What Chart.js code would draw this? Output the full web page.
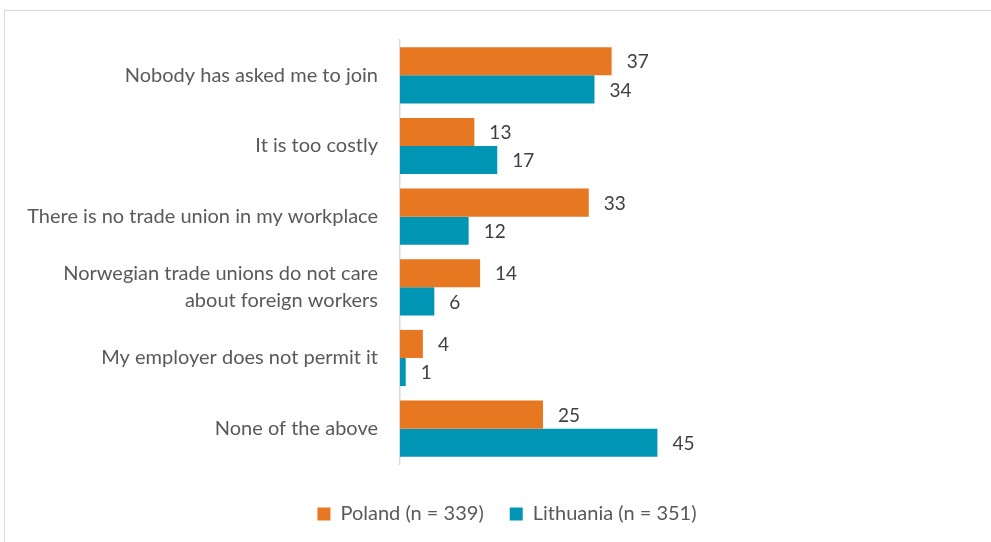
<!DOCTYPE html>
<html>
<head>
<meta charset="utf-8">
<script src="https://cdn.jsdelivr.net/npm/chart.js@4.4.1/dist/chart.umd.min.js"></script>
<style>
  html, body { margin: 0; padding: 0; background: #fff; overflow: hidden; }
  .frame {
    position: absolute; left: 4px; top: 10px;
    width: 1100px; height: 700px;
    border: 1px solid #d9d9d9; box-sizing: border-box;
  }
  .wrap { position: absolute; left: 0; top: 0; width: 991px; height: 542px; }
</style>
</head>
<body>
<div class="frame"></div>
<div class="wrap"><canvas id="chartReasons"></canvas></div>
<script>
// Reasons for not joining a trade union (%)
const reasons = [
  'Nobody has asked me to join',
  'It is too costly',
  'There is no trade union in my workplace',
  ['Norwegian trade unions do not care', 'about foreign workers'],
  'My employer does not permit it',
  'None of the above'
];
const poland = [37, 13, 33, 14, 4, 25];
const lithuania = [34, 17, 12, 6, 1, 45];
const seriesNames = ['Poland (n = 339)', 'Lithuania (n = 351)'];

const colors = {
  orange: '#e87722',
  teal: '#0095b5',
  axis: '#d9d9d9',
  label: '#595959',
  value: '#404040'
};

const FONT = 'Lato, "Noto Sans", sans-serif';

// value labels to the right of each bar
const barValues = {
  id: 'barValues',
  afterDatasetsDraw(chart) {
    const ctx = chart.ctx;
    ctx.save();
    ctx.font = '19px ' + FONT;
    ctx.fillStyle = colors.value;
    ctx.textAlign = 'left';
    ctx.textBaseline = 'middle';
    chart.data.datasets.forEach((ds, i) => {
      chart.getDatasetMeta(i).data.forEach((bar, j) => {
        ctx.fillText(ds.data[j], bar.x + 15, bar.y + 1);
      });
    });
    ctx.restore();
  }
};

// legend sits centred under the whole frame, a bit right of the canvas centre
const legendShift = {
  id: 'legendShift',
  afterUpdate(chart) {
    chart.legend.left += 21;
    chart.legend.right += 21;
  }
};

new Chart(document.getElementById('chartReasons'), {
  type: 'bar',
  data: {
    labels: reasons,
    datasets: [
      { label: seriesNames[0], data: poland, backgroundColor: colors.orange },
      { label: seriesNames[1], data: lithuania, backgroundColor: colors.teal }
    ]
  },
  options: {
    indexAxis: 'y',
    responsive: true,
    maintainAspectRatio: false,
    animation: false,
    categoryPercentage: 0.795,
    barPercentage: 1.0,
    layout: { padding: { top: 40, right: 19, bottom: 8, left: 0 } },
    scales: {
      x: {
        min: 0,
        max: 100,
        // empty axis, only keeps a gap above the legend
        afterFit(axis) { axis.height = 14; },
        grid: { display: false },
        border: { display: false },
        ticks: { display: false }
      },
      y: {
        afterFit(axis) { axis.width = 400; },
        grid: { display: false, drawTicks: false },
        border: { display: true, color: colors.axis, width: 1.5 },
        ticks: {
          padding: 22,
          color: colors.label,
          font: { family: FONT, size: 20, lineHeight: 1.35 }
        }
      }
    },
    plugins: {
      legend: {
        position: 'bottom',
        labels: {
          boxWidth: 13,
          boxHeight: 13,
          padding: 26,
          color: colors.label,
          font: { family: FONT, size: 20 }
        }
      },
      tooltip: { enabled: false }
    }
  },
  plugins: [barValues, legendShift]
});
</script>
</body>
</html>
